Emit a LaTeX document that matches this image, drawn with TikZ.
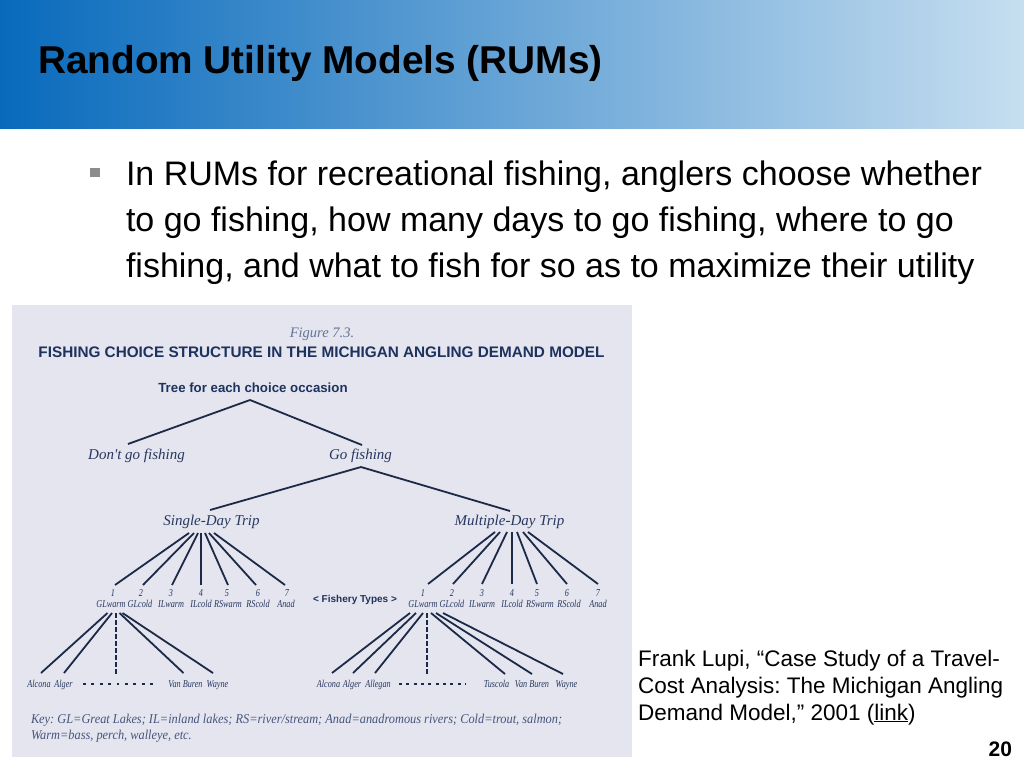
\documentclass[tikz,border=0pt]{standalone}
\usepackage{fontspec}
\usepackage{graphicx}
\setmainfont{Liberation Sans}
\newfontfamily\lsans{Liberation Sans}
\newfontfamily\lserif{Liberation Serif}
\newcommand\cnd[1]{\scalebox{0.78}[1]{#1}}
\newcommand\kcnd[1]{\scalebox{0.915}[1]{#1}}
\definecolor{hdL}{RGB}{8,106,188}
\definecolor{hdR}{RGB}{198,222,240}
\definecolor{panel}{RGB}{228,229,238}
\definecolor{navy}{RGB}{28,42,72}
\definecolor{ftitle}{RGB}{30,50,95}
\definecolor{flabel}{RGB}{40,55,95}
\definecolor{figcap}{RGB}{100,115,150}
\definecolor{keyc}{RGB}{70,85,125}
\definecolor{bulletc}{RGB}{140,140,140}
\frenchspacing
\begin{document}
\begin{tikzpicture}[x=1pt,y=-1pt,
  lbl/.style={inner sep=0pt, outer sep=0pt, anchor=base},
  body/.style={lbl, anchor=base west, font=\lsans\fontsize{34}{40}\selectfont},
  cite/.style={lbl, anchor=base west, font=\lsans\fontsize{22.5}{27}\selectfont},
  fbold/.style={lbl, text=ftitle, font=\lsans\bfseries\fontsize{#1}{#1}\selectfont},
  fital/.style={lbl, text=flabel, font=\lserif\itshape\fontsize{15}{15}\selectfont},
  small/.style={lbl, text=flabel, font=\lserif\itshape\fontsize{10.5}{10.5}\selectfont},
  keytxt/.style={lbl, anchor=base west, text=keyc, font=\lserif\itshape\fontsize{13.5}{16}\selectfont},
  tline/.style={draw=navy, line width=1.8pt},
  thick4/.style={draw=navy, line width=2.8pt},
  dashv/.style={draw=navy, line width=2.4pt, dash pattern=on 4.5pt off 2.5pt},
  dotrow/.style={draw=navy, line width=2.8pt}
]
\useasboundingbox (0,0) rectangle (1024,768);
\fill[white] (0,0) rectangle (1024,768);
% header
\shade[left color=hdL, right color=hdR] (0,0) rectangle (1024,128);
\node[lbl, anchor=base west, font=\lsans\bfseries\fontsize{38.8}{40}\selectfont] (title) at (38,74) {Random Utility Models (RUMs)};
% bullet
\node[fill=bulletc, minimum size=9.5pt, inner sep=0pt, outer sep=0pt] (bul) at (95,172.5) {};
\node[body] (b1) at (126,185) {In RUMs for recreational fishing, anglers choose whether};
\node[body] (b2) at (126,231) {to go fishing, how many days to go fishing, where to go};
\node[body] (b3) at (126,277) {fishing, and what to fish for so as to maximize their utility};
% citation
\node[cite] (c1) at (638,666) {Frank Lupi, “Case Study of a Travel-};
\node[cite] (c2) at (638,693) {Cost Analysis: The Michigan Angling};
\node[cite] (c3) at (638,720) {Demand Model,” 2001 (\underline{link})};
\node[lbl, anchor=base east, font=\lsans\bfseries\fontsize{21}{21}\selectfont] (pg) at (1012,756) {20};
% figure panel
\fill[panel] (12,305) rectangle (632,757);
\node[lbl, text=figcap, font=\lserif\itshape\fontsize{14.5}{15}\selectfont] (fig) at (322,337) {Figure 7.3.};
\node[fbold=15.3] (ftl) at (321.5,357) {FISHING CHOICE STRUCTURE IN THE MICHIGAN ANGLING DEMAND MODEL};
\node[fbold=13.25] (tree) at (253,392) {Tree for each choice occasion};
\node[fital] (dont) at (136.5,459) {Don't go fishing};
\node[fital] (go) at (360.5,459) {Go fishing};
\node[fital] (sdt) at (211.5,525) {Single-Day Trip};
\node[fital] (mdt) at (509.5,525) {Multiple-Day Trip};
\node[fbold=10] (fish) at (355,602) {< Fishery Types >};
% fishery types, single-day
\foreach \i/\x in {1/113, 2/141, 3/171, 4/201, 5/227, 6/258, 7/287}{
  \node[small] (n\i) at (\x,596) {\cnd{\i}};
}
\foreach \i/\x/\t in {1/111/GLwarm, 2/140/GLcold, 3/171/ILwarm, 4/201/ILcold, 5/228/RSwarm, 6/258/RScold, 7/286/Anad}{
  \node[small] (l\i) at (\x,607) {\cnd{\t}};
}
% fishery types, multiple-day
\foreach \i/\x in {1/423, 2/452, 3/482, 4/512, 5/537, 6/567, 7/598}{
  \node[small] (m\i) at (\x,596) {\cnd{\i}};
}
\foreach \i/\x/\t in {1/423/GLwarm, 2/452/GLcold, 3/482/ILwarm, 4/512/ILcold, 5/540/RSwarm, 6/569/RScold, 7/598/Anad}{
  \node[small] (k\i) at (\x,607) {\cnd{\t}};
}
% counties
\node[small] (alc1) at (39,687) {\cnd{Alcona}};
\node[small] (alg1) at (63.5,687) {\cnd{Alger}};
\node[small] (vb1) at (185.5,687) {\cnd{Van Buren}};
\node[small] (wy1) at (217.5,687) {\cnd{Wayne}};
\node[small] (alc2) at (328.5,687) {\cnd{Alcona}};
\node[small] (alg2) at (352,687) {\cnd{Alger}};
\node[small] (all2) at (378,687) {\cnd{Allegan}};
\node[small] (tus2) at (496.5,687) {\cnd{Tuscola}};
\node[small] (vb2) at (532,687) {\cnd{Van Buren}};
\node[small] (wy2) at (566.5,687) {\cnd{Wayne}};
% key
\node[keytxt] (key1) at (31,723) {\kcnd{Key: GL=Great Lakes; IL=inland lakes; RS=river/stream; Anad=anadromous rivers; Cold=trout, salmon;}};
\node[keytxt] (key2) at (31,739) {\kcnd{Warm=bass, perch, walleye, etc.}};
% connectors: top levels
\draw[tline] ([shift={(-3,8)}]tree.base) -- ([shift={(-8.5,-15)}]dont.base);
\draw[tline] ([shift={(-3,8)}]tree.base) -- ([shift={(1.5,-14)}]go.base);
\draw[tline] ([shift={(0.5,8)}]go.base) -- ([shift={(-1.5,-15)}]sdt.base);
\draw[tline] ([shift={(0.5,8)}]go.base) -- ([shift={(0.5,-14)}]mdt.base);
% single-day fan
\foreach \i/\dx/\bx in {1/-22.5/2, 2/-17.5/2, 3/-13.5/1, 5/-6.5/1, 6/-2.5/-2, 7/2.5/-2}
  \draw[tline] ([shift={(\dx,8)}]sdt.base) -- ([shift={(\bx,-11)}]n\i.base);
\draw[thick4] ([shift={(-10.5,8)}]sdt.base) -- ([shift={(0,-11)}]n4.base);
% multiple-day fan
\foreach \i/\dx/\bx in {1/-14.5/5, 2/-9.5/1, 3/-2.5/0, 5/7.5/0, 6/13.5/0, 7/18.5/0}
  \draw[tline] ([shift={(\dx,7)}]mdt.base) -- ([shift={(\bx,-12)}]m\i.base);
\draw[thick4] ([shift={(2.5,7)}]mdt.base) -- ([shift={(0,-12)}]m4.base);
% single-day sites fan
\draw[tline] ([shift={(-3.5,6)}]l1.base) -- ([shift={(2,-14)}]alc1.base);
\draw[tline] ([shift={(1,6)}]l1.base) -- ([shift={(0.5,-14)}]alg1.base);
\draw[tline] ([shift={(8.5,6)}]l1.base) -- ([shift={(-2,-14)}]vb1.base);
\draw[tline] ([shift={(11.5,6)}]l1.base) -- ([shift={(-4.5,-14)}]wy1.base);
\coordinate (d1) at (116,676);
\draw[dashv] ([shift={(5,6)}]l1.base) -- (d1);
\coordinate (r1a) at (83,684);
\coordinate (r1b) at (153,684);
\draw[dotrow, dash pattern=on 2.8pt off 5.6pt] (r1a) -- (r1b);
% multiple-day sites fan
\draw[tline] ([shift={(-13,6)}]k1.base) -- ([shift={(3.5,-14)}]alc2.base);
\draw[tline] ([shift={(-7,6)}]k1.base) -- ([shift={(1,-14)}]alg2.base);
\draw[tline] ([shift={(0,6)}]k1.base) -- ([shift={(-3,-14)}]all2.base);
\draw[tline] ([shift={(8,6)}]k1.base) -- ([shift={(8.5,-13)}]tus2.base);
\draw[tline] ([shift={(13,6)}]k1.base) -- ([shift={(0,-13)}]vb2.base);
\draw[tline] ([shift={(20,6)}]k1.base) -- ([shift={(-3.5,-13)}]wy2.base);
\coordinate (d2) at (427,676);
\draw[dashv] ([shift={(4,6)}]k1.base) -- (d2);
\coordinate (r2a) at (399,684);
\coordinate (r2b) at (466,684);
\draw[dotrow, dash pattern=on 2.8pt off 4.55pt] (r2a) -- (r2b);
\end{tikzpicture}
\end{document}
